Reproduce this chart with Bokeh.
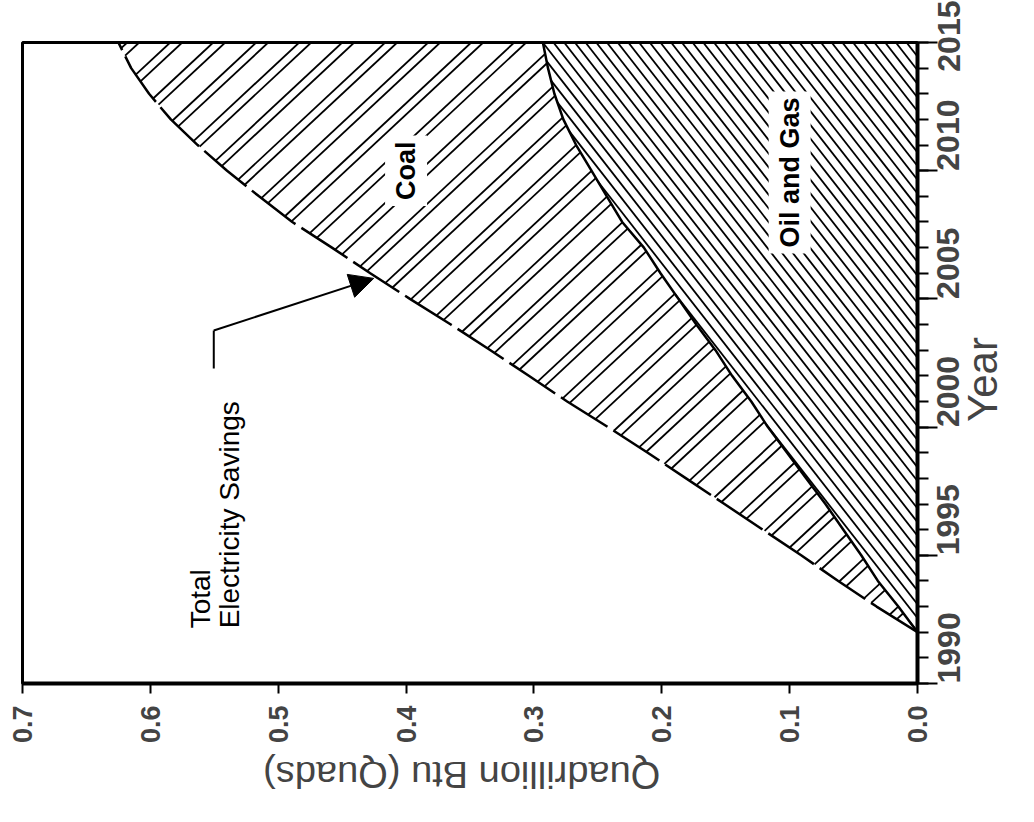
from math import pi
import numpy as np
from bokeh.plotting import figure
from bokeh.models import (Range1d, FixedTicker, SingleIntervalTicker, PrintfTickFormatter,
                          Label, Arrow, NormalHead, LinearAxis)
from bokeh.embed import file_html
from bokeh.resources import INLINE

# ---- data ----
years = list(range(1992, 2016))
oil_gas = [0.000, 0.015, 0.031, 0.044, 0.058, 0.072, 0.087, 0.102, 0.117, 0.130, 0.145, 0.158,
           0.173, 0.187, 0.201, 0.214, 0.231, 0.243, 0.255, 0.267, 0.277, 0.284, 0.289, 0.293]
total_savings = [0.000, 0.032, 0.062, 0.091, 0.121, 0.151, 0.181, 0.211, 0.242, 0.274, 0.304, 0.334,
                 0.365, 0.397, 0.428, 0.458, 0.489, 0.515, 0.540, 0.563, 0.584, 0.601, 0.615, 0.625]
quad_ticks = [0.0, 0.1, 0.2, 0.3, 0.4, 0.5, 0.6, 0.7]
x_title = "Quadrillion Btu  (Quads)"
y_title = "Year"

FONT = "Liberation Sans"
Q0, Q1 = 0.7, 0.0
Y0, Y1 = 1990, 2015
FW, FH = 895.0, 641.0   # frame size in px

p = figure(width=1034, height=822,
           x_range=Range1d(Q0, Q1), y_range=Range1d(Y0, Y1),
           x_axis_location="below", y_axis_location="right",
           output_backend="svg", toolbar_location=None,
           min_border_left=22, min_border_top=42, min_border_right=117, min_border_bottom=139)
p.background_fill_color = "white"
p.border_fill_color = "white"
p.outline_line_color = "black"
p.outline_line_width = 3
p.xgrid.visible = False
p.ygrid.visible = False


def hatch(lo, hi, angle_deg, sign, period_px, offsets_px):
    """Clip parallel screen-space lines to the region lo(year) <= q <= hi(year)."""
    yy = np.linspace(years[0], years[-1], 6001)
    lo_v = np.interp(yy, years, lo)
    hi_v = np.interp(yy, years, hi)
    qpp = (Q0 - Q1) / FW                   # quads per px
    k = (FH / (Y1 - Y0)) / np.tan(np.radians(angle_deg)) * qpp   # dq per year
    span = k * (years[-1] - years[0])
    step = period_px * qpp
    x0, y0, x1, y1 = [], [], [], []
    for c in np.arange(-span - 0.05, Q0 + span + 0.05, step):
        for off in offsets_px:
            q = c + off * qpp + sign * k * (yy - years[0])
            m = (q >= lo_v) & (q <= hi_v)
            if not m.any():
                continue
            d = np.diff(np.concatenate([[0], m.astype(int), [0]]))
            starts = np.where(d == 1)[0]
            ends = np.where(d == -1)[0] - 1
            for s, e in zip(starts, ends):
                if e <= s:
                    continue
                x0.append(q[s]); y0.append(yy[s]); x1.append(q[e]); y1.append(yy[e])
    return x0, y0, x1, y1


zero = [0.0] * len(years)
# Oil and Gas region: "\" lines
ox0, oy0, ox1, oy1 = hatch(zero, oil_gas, 52, +1, 10.7, [0])
p.segment(ox0, oy0, ox1, oy1, line_color="black", line_width=1.8)
# Coal region: paired "/" lines
cx0, cy0, cx1, cy1 = hatch(oil_gas, total_savings, 43, -1, 43, [0, 12])
p.segment(cx0, cy0, cx1, cy1, line_color="black", line_width=1.8)

p.line(oil_gas, years, line_color="black", line_width=2.5)
p.line(total_savings, years, line_color="black", line_width=2.5, line_dash="55 7")

# labels
lab_kw = dict(angle=pi/2, text_font=FONT, text_color="black")
p.add_layout(Label(x=0.400, y=2010.0, text="Coal", text_align="center", text_baseline="middle",
                   text_font_size="27px", text_font_style="bold",
                   background_fill_color="white", padding=6, **lab_kw))
p.add_layout(Label(x=0.100, y=2009.93, text="Oil and Gas", text_align="center", text_baseline="middle",
                   text_font_size="27px", text_font_style="bold",
                   background_fill_color="white", padding=6, **lab_kw))
p.add_layout(Label(x=0.5606, y=1992.15, text="Total", text_align="left", text_baseline="middle",
                   text_font_size="28px", **lab_kw))
p.add_layout(Label(x=0.5380, y=1992.15, text="Electricity Savings", text_align="left",
                   text_baseline="middle", text_font_size="28px", **lab_kw))

# leader + arrow
p.line([0.5504, 0.5504], [2002.29, 2003.77], line_color="black", line_width=2)
p.add_layout(Arrow(end=NormalHead(size=24, fill_color="black", line_color="black"),
                   x_start=0.5504, y_start=2003.77, x_end=0.4253, y_end=2005.8,
                   line_color="black", line_width=2))

# x axis (Quads)
xa = p.xaxis[0]
xa.ticker = FixedTicker(ticks=quad_ticks)
xa.formatter = PrintfTickFormatter(format="%.1f")
xa.major_label_orientation = pi/2
xa.major_tick_in = 0
xa.major_tick_out = 10
xa.major_tick_line_width = 2
xa.minor_tick_line_color = None
xa.axis_line_width = 4
xa.major_label_standoff = 12
xa.major_label_text_font = FONT
xa.major_label_text_font_size = "27px"
xa.major_label_text_font_style = "bold"

# y axis (Year)
ya = p.yaxis[0]
ya.ticker = SingleIntervalTicker(interval=5, num_minor_ticks=5)
ya.major_label_orientation = pi/2
ya.major_tick_in = 0
ya.major_tick_out = 20
ya.minor_tick_in = 0
ya.minor_tick_out = 11
ya.major_tick_line_width = 2
ya.minor_tick_line_width = 2
ya.axis_line_width = 4
ya.major_label_standoff = 11
ya.major_label_text_font = FONT
ya.major_label_text_font_size = "32px"
ya.major_label_text_font_style = "bold"

# axis titles, rotated like the scanned page (as single-tick label axes)
tx_pos = 0.52
title_x = LinearAxis(ticker=FixedTicker(ticks=[tx_pos]), major_label_overrides={tx_pos: x_title},
                     major_label_orientation=pi, axis_line_color=None,
                     major_tick_in=0, major_tick_out=0, minor_tick_in=0, minor_tick_out=0,
                     major_tick_line_color=None, minor_tick_line_color=None,
                     major_label_text_font=FONT, major_label_text_font_size="38px",
                     major_label_standoff=28)
p.add_layout(title_x, "below")
ty_pos = 2000.2
title_y = LinearAxis(ticker=FixedTicker(ticks=[ty_pos]), major_label_overrides={ty_pos: y_title},
                     major_label_orientation=pi/2, axis_line_color=None,
                     major_tick_in=0, major_tick_out=0, minor_tick_in=0, minor_tick_out=0,
                     major_tick_line_color=None, minor_tick_line_color=None,
                     major_label_text_font=FONT, major_label_text_font_size="42px",
                     major_label_standoff=9)
p.add_layout(title_y, "right")

open("out.html", "w").write(file_html(p, INLINE))
